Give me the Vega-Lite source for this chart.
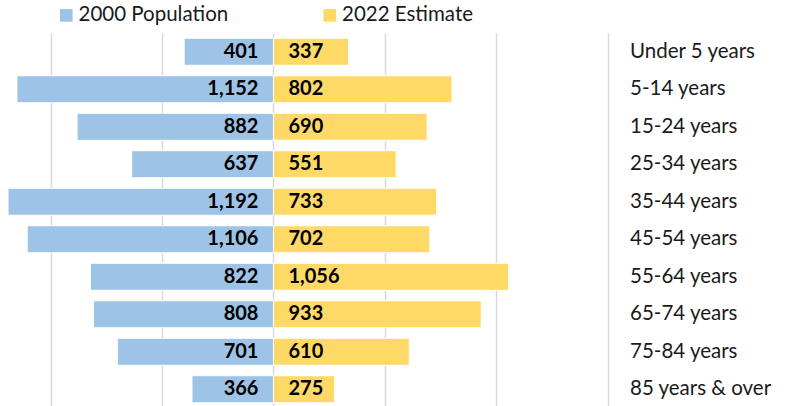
{
  "$schema": "https://vega.github.io/schema/vega-lite/v6.json",
  "width": 607.5,
  "height": 375,
  "autosize": {"type": "none"},
  "padding": {"left": 0, "top": 33, "right": 179.5, "bottom": 0},
  "config": {"view": {"stroke": null}, "font": "Lato"},
  "data": {
    "values": [
      {"age": "Under 5 years", "2000 Population": 401, "2022 Estimate": 337},
      {"age": "5-14 years", "2000 Population": 1152, "2022 Estimate": 802},
      {"age": "15-24 years", "2000 Population": 882, "2022 Estimate": 690},
      {"age": "25-34 years", "2000 Population": 637, "2022 Estimate": 551},
      {"age": "35-44 years", "2000 Population": 1192, "2022 Estimate": 733},
      {"age": "45-54 years", "2000 Population": 1106, "2022 Estimate": 702},
      {"age": "55-64 years", "2000 Population": 822, "2022 Estimate": 1056},
      {"age": "65-74 years", "2000 Population": 808, "2022 Estimate": 933},
      {"age": "75-84 years", "2000 Population": 701, "2022 Estimate": 610},
      {"age": "85 years & over", "2000 Population": 366, "2022 Estimate": 275}
    ]
  },
  "transform": [
    {"fold": ["2000 Population", "2022 Estimate"], "as": ["series", "value"]},
    {"calculate": "datum.series == '2000 Population' ? -datum.value : datum.value", "as": "signed"}
  ],
  "encoding": {
    "y": {
      "field": "age",
      "type": "nominal",
      "sort": null,
      "scale": {"paddingInner": 0.28, "paddingOuter": 0.14},
      "axis": {
        "orient": "right",
        "title": null,
        "domain": false,
        "ticks": false,
        "grid": false,
        "labelAlign": "left",
        "labelPadding": 22,
        "labelFontSize": 20.5,
        "labelColor": "#1a1a1a",
        "labelFont": "Lato"
      }
    }
  },
  "layer": [
    {
      "mark": {"type": "bar", "stroke": "white", "strokeWidth": 1},
      "encoding": {
        "x": {
          "field": "signed",
          "type": "quantitative",
          "stack": null,
          "scale": {"domain": [-1228, 1500], "nice": false, "zero": false},
          "axis": {
            "values": [-1000, -500, 0, 500, 1000, 1500],
            "labels": false,
            "ticks": false,
            "domain": false,
            "title": null,
            "grid": true,
            "gridColor": "#d9d9d9",
            "gridWidth": 1.5
          }
        },
        "color": {
          "field": "series",
          "type": "nominal",
          "scale": {"domain": ["2000 Population", "2022 Estimate"], "range": ["#9DC3E6", "#FFD966"]},
          "legend": {
            "orient": "none",
            "legendX": 56,
            "legendY": -28,
            "direction": "horizontal",
            "title": null,
            "padding": 0,
            "symbolType": "square",
            "symbolSize": 160,
            "symbolStrokeWidth": 0,
            "labelFontSize": 20.5,
            "labelFont": "Lato",
            "labelColor": "#1a1a1a",
            "labelOffset": 2,
            "columnPadding": 90.5
          }
        }
      }
    },
    {
      "transform": [{"filter": "datum.series == '2000 Population'"}],
      "mark": {"type": "text", "align": "right", "dx": -15, "fontWeight": "bold", "fontSize": 20, "color": "black"},
      "encoding": {
        "x": {"datum": 0, "type": "quantitative"},
        "text": {"field": "value", "type": "quantitative", "format": ","}
      }
    },
    {
      "transform": [{"filter": "datum.series == '2022 Estimate'"}],
      "mark": {"type": "text", "align": "left", "dx": 15, "fontWeight": "bold", "fontSize": 20, "color": "black"},
      "encoding": {
        "x": {"datum": 0, "type": "quantitative"},
        "text": {"field": "value", "type": "quantitative", "format": ","}
      }
    }
  ]
}
